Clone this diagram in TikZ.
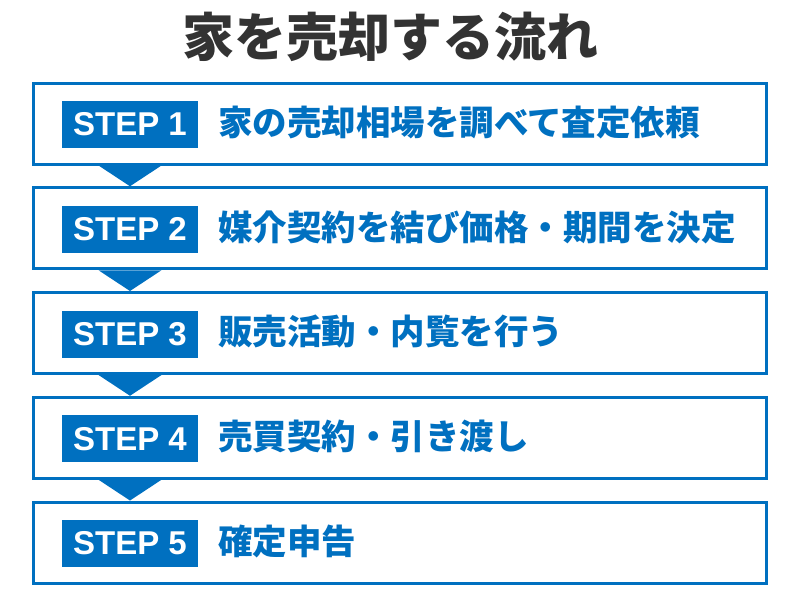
\documentclass[tikz,border=0pt]{standalone}
\usepackage{fontspec}
\newfontfamily\jpfont{Noto Sans CJK JP}
\newfontfamily\stepfont{Liberation Sans}
\usepackage{xcolor}
\usepackage{tikz}
\usetikzlibrary{positioning,calc}
\definecolor{stepblue}{HTML}{0070C0}
\definecolor{titlegray}{HTML}{333333}

\begin{document}
\begin{tikzpicture}[x=1pt,y=-1pt,
  stepbox/.style={rectangle,draw=stepblue,line width=3pt,fill=white,minimum width=733pt,minimum height=81pt},
  steptag/.style={rectangle,fill=stepblue,text=white,minimum width=136pt,minimum height=47pt,inner sep=0pt,font=\stepfont\bfseries\fontsize{33}{33}\selectfont},
  steptext/.style={anchor=west,text=stepblue,inner sep=0pt,font=\jpfont\bfseries\fontsize{34.5}{40}\selectfont},
  chevron/.style={fill=stepblue}]
\useasboundingbox (0,0) rectangle (800,600);
\node[text=titlegray,font=\jpfont\bfseries\fontsize{52}{60}\selectfont] (title) at (390,37) {家を売却する流れ};
\node[stepbox] (box1) at (400,123.5) {};
\node[steptag] (tag1) at (130,124.5) {STEP 1};
\node[steptext] (txt1) at (218,122.5) {家の売却相場を調べて査定依頼};
\node[stepbox] (box2) at (400,228.25) {};
\node[steptag] (tag2) at (130,229.25) {STEP 2};
\node[steptext] (txt2) at (218,227.25) {媒介契約を結び価格・期間を決定};
\node[stepbox] (box3) at (400,333) {};
\node[steptag] (tag3) at (130,334) {STEP 3};
\node[steptext] (txt3) at (218,332) {販売活動・内覧を行う};
\node[stepbox] (box4) at (400,437.75) {};
\node[steptag] (tag4) at (130,438.75) {STEP 4};
\node[steptext] (txt4) at (218,436.75) {売買契約・引き渡し};
\node[stepbox] (box5) at (400,542.5) {};
\node[steptag] (tag5) at (130,543.5) {STEP 5};
\node[steptext] (txt5) at (218,541.5) {確定申告};
% arrows between the steps
\fill[chevron] ($(tag1 |- box1.south)+(-31.5,0)$) -- ($(tag1 |- box1.south)+(31.5,0)$) -- (tag1 |- box2.north) -- cycle;
\fill[chevron] ($(tag2 |- box2.south)+(-31.5,0)$) -- ($(tag2 |- box2.south)+(31.5,0)$) -- (tag2 |- box3.north) -- cycle;
\fill[chevron] ($(tag3 |- box3.south)+(-31.5,0)$) -- ($(tag3 |- box3.south)+(31.5,0)$) -- (tag3 |- box4.north) -- cycle;
\fill[chevron] ($(tag4 |- box4.south)+(-31.5,0)$) -- ($(tag4 |- box4.south)+(31.5,0)$) -- (tag4 |- box5.north) -- cycle;
\end{tikzpicture}
\end{document}
